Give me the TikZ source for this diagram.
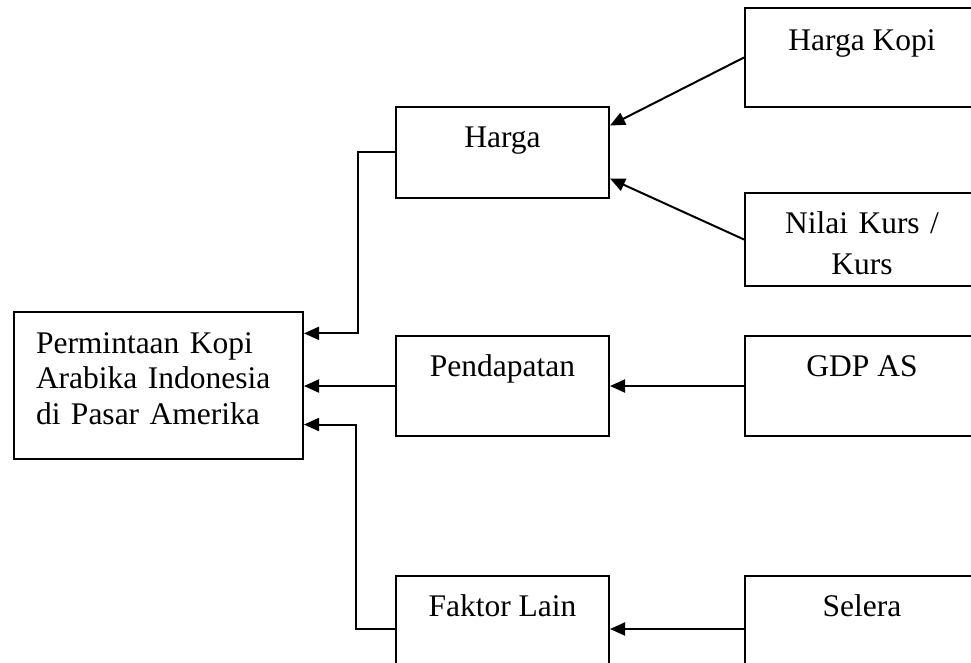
\documentclass[tikz,border=0pt]{standalone}
\usepackage{fontspec}
\setmainfont{Liberation Serif}
\usetikzlibrary{arrows.meta,calc}

\tikzset{
    box/.style={draw, line width=2pt, inner sep=0pt, font=\fontsize{31.5}{35.5}\selectfont},
    link/.style={line width=2pt, -{Triangle[length=15pt,width=13pt]}}
}

\begin{document}
\begin{tikzpicture}[x=1pt,y=-1pt]
    \clip (0,0) rectangle (971,663);
    % demand box
    \node[box, anchor=north west, text width=245pt, inner xsep=22pt, align=left, text height=41pt, text depth=106pt] (permintaan) at (13,311) {Permintaan Kopi\\Arabika Indonesia\\di Pasar Amerika};
    % middle column
    \node[box, anchor=north west, minimum width=213pt, text height=41pt, text depth=50pt] (harga) at (395,106) {Harga};
    \node[box, anchor=north west, minimum width=213pt, text height=40pt, text depth=60pt] (pendapatan) at (395,335) {Pendapatan};
    \node[box, anchor=north west, minimum width=213pt, text height=40pt, text depth=66pt] (faktor) at (395,575) {Faktor Lain};
    % right column
    \node[box, anchor=north west, minimum width=234pt, text height=43pt, text depth=56pt] (hargakopi) at (744,7) {Harga Kopi};
    \node[box, anchor=north west, text width=234pt, align=center, text height=40pt, text depth=53pt, font=\fontsize{31.5}{41}\selectfont] (kurs) at (744,192) {Nilai Kurs /\\Kurs};
    \node[box, anchor=north west, minimum width=234pt, text height=40pt, text depth=60pt] (gdp) at (744,335) {GDP AS};
    \node[box, anchor=north west, minimum width=234pt, text height=40pt, text depth=66pt] (selera) at (744,575) {Selera};

    \draw[link] (hargakopi.west) -- ($(harga.north east)!0.21!(harga.south east)$);
    \draw[link] (kurs.west) -- ($(harga.north east)!0.78!(harga.south east)$);
    \draw[link] (gdp.west) -- (pendapatan.east);
    \draw[link] (selera.west) -- (faktor.east);
    \draw[link] (harga.west) -- ++(-37,0) |- ($(permintaan.north east)!0.15!(permintaan.south east)$);
    \draw[link] (pendapatan.west) -- (pendapatan.west -| permintaan.east);
    \draw[link] (faktor.west) -- ++(-39,0) |- ($(permintaan.north east)!0.762!(permintaan.south east)$);
\end{tikzpicture}
\end{document}
